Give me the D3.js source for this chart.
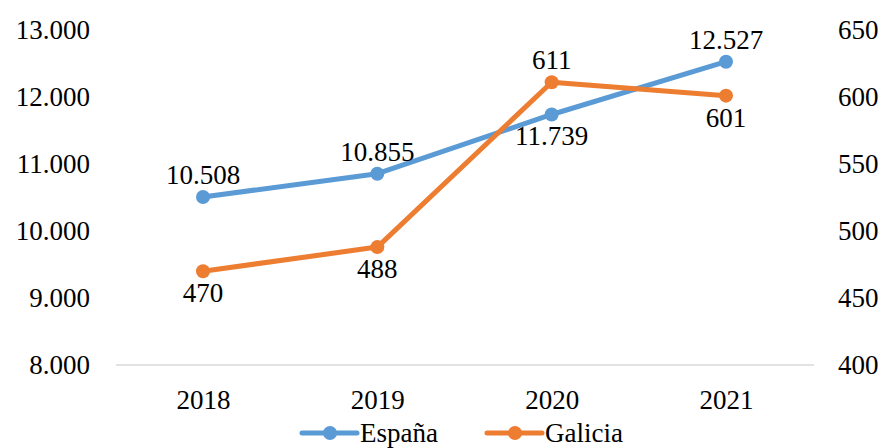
<!DOCTYPE html>
<html><head><meta charset="utf-8">
<script src="https://cdn.jsdelivr.net/npm/d3@7"></script>
<style>body{margin:0;background:#fff}svg{display:block}text{font-family:"Liberation Serif",serif;fill:#000}</style>
</head><body><svg id="c" width="888" height="448"></svg>
<script>
const years = ["2018","2019","2020","2021"];
const espana = [10508, 10855, 11739, 12527];
const galicia = [470, 488, 611, 601];
const leftTicks = [8000, 9000, 10000, 11000, 12000, 13000];
const rightTicks = [400, 450, 500, 550, 600, 650];
const espanaLabelPos = ["above","above","below","above"];
const galiciaLabelPos = ["below","below","above","below"];

const svg = d3.select("#c");
const fs = 27;
const ff = "Liberation Serif";
const x = d3.scalePoint().domain(years).range([203, 726]);
const yL = d3.scaleLinear().domain([8000, 13000]).range([365, 30]);
const yR = d3.scaleLinear().domain([400, 650]).range([365, 30]);
const fmt = v => d3.format(",")(v).replace(/,/g, ".");

svg.append("line").attr("x1", 116).attr("x2", 814).attr("y1", yL(8000)).attr("y2", yL(8000))
  .attr("stroke", "#d9d9d9").attr("stroke-width", 1.5);

const gL = svg.append("g").attr("transform", "translate(90,0)")
  .call(d3.axisLeft(yL).tickValues(leftTicks).tickFormat(fmt).tickSize(0).tickPadding(0));
const gR = svg.append("g").attr("transform", "translate(838,0)")
  .call(d3.axisRight(yR).tickValues(rightTicks).tickSize(0).tickPadding(0));
const gX = svg.append("g").attr("transform", "translate(0,390)")
  .call(d3.axisBottom(x).tickSize(0).tickPadding(0));
[gL, gR, gX].forEach(g => { g.select(".domain").remove(); g.selectAll("text").style("font-family", ff).style("font-size", fs + "px").attr("fill", "#000"); });
gX.selectAll("text").attr("dy", "0.71em");

function series(vals, y, color, pos) {
  svg.append("path").datum(vals)
    .attr("d", d3.line().x((d, i) => x(years[i])).y(d => y(d)))
    .attr("fill", "none").attr("stroke", color).attr("stroke-width", 5).attr("stroke-linejoin", "round");
  svg.selectAll(null).data(vals).enter().append("circle")
    .attr("cx", (d, i) => x(years[i])).attr("cy", d => y(d)).attr("r", 7).attr("fill", color);
  svg.selectAll(null).data(vals).enter().append("text")
    .attr("x", (d, i) => x(years[i]))
    .attr("y", (d, i) => y(d) + (pos[i] === "above" ? -13 : 31))
    .attr("text-anchor", "middle").style("font-size", fs + "px")
    .text(d => fmt(d));
}
series(espana, yL, "#5b9bd5", espanaLabelPos);
series(galicia, yR, "#ed7d31", galiciaLabelPos);

const legend = [["España", "#5b9bd5", 302], ["Galicia", "#ed7d31", 487]];
legend.forEach(([name, color, lx]) => {
  const g = svg.append("g");
  g.append("line").attr("x1", lx).attr("x2", lx + 55).attr("y1", 433).attr("y2", 433)
    .attr("stroke", color).attr("stroke-width", 5).attr("stroke-linecap", "round");
  g.append("circle").attr("cx", lx + 28).attr("cy", 433).attr("r", 7).attr("fill", color);
  g.append("text").attr("x", lx + 58).attr("y", 441.5).style("font-size", fs + "px").text(name);
});
</script></body></html>
